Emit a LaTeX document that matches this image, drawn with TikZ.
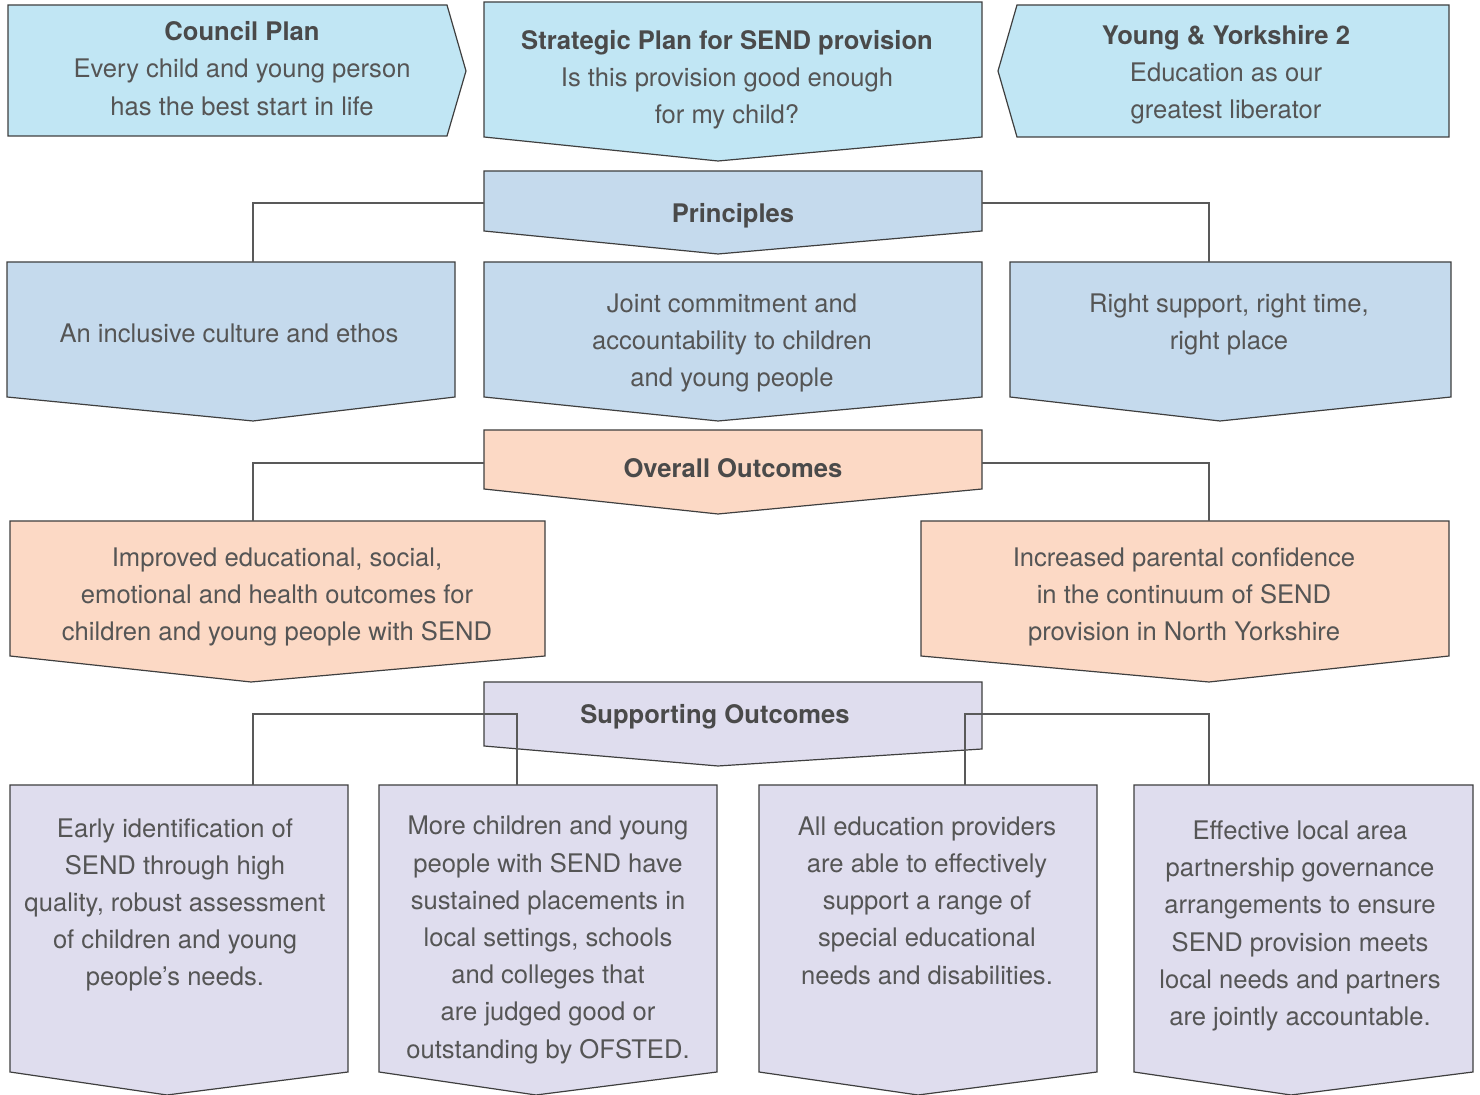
\documentclass[tikz,border=0pt]{standalone}
\usepackage{fontspec}
\setmainfont{TeX Gyre Heros}
\definecolor{topblue}{HTML}{C1E6F4}
\definecolor{princblue}{HTML}{C5DAED}
\definecolor{peach}{HTML}{FCD9C5}
\definecolor{lav}{HTML}{DFDDEE}
\definecolor{boxline}{HTML}{3F3F3F}
\definecolor{connc}{HTML}{595959}
\definecolor{txtc}{HTML}{555555}
\definecolor{headc}{HTML}{4A4A4A}
\begin{document}
\begin{tikzpicture}[x=0.5pt,y=-0.5pt,
  box/.style={draw=boxline, line width=0.6pt, line join=miter},
  conn/.style={draw=connc, line width=1.1pt},
  txt/.style={text=txtc, align=center, inner sep=0pt, font=\fontsize{12.8}{18.6}\selectfont},
  head/.style={txt, text=headc, font=\fontsize{12.8}{18.6}\selectfont\bfseries}]
\useasboundingbox (0,0) rectangle (1480,1095);

% ---- top row ----
\draw[box, fill=topblue] (8,5) -- (447,5) -- (466,71) -- (447,136) -- (8,136) -- cycle;
\draw[box, fill=topblue] (484,2) -- (982,2) -- (982,137) -- (718,161) -- (484,137) -- cycle;
\draw[box, fill=topblue] (1017,5) -- (1449,5) -- (1449,137) -- (1017,137) -- (998,71) -- cycle;
\node[txt] (council) at (242,68.5) {\textcolor{headc}{\textbf{Council Plan}}\\Every child and young person\\has the best start in life};
\node[txt] (strategic) at (727,79.5) {\textcolor{headc}{\textbf{Strategic Plan for SEND provision}}\\Is this provision good enough\\for my child?};
\node[txt] (young) at (1226,74.5) {\textcolor{headc}{\textbf{Young \& Yorkshire 2}}\\Education as our\\greatest liberator};

% ---- principles ----
\draw[box, fill=princblue] (484,171) -- (982,171) -- (982,231) -- (718,254) -- (484,231) -- cycle;
\node[head] (princ) at (733,216) {Principles};
\coordinate (princW) at (484,203);
\coordinate (princE) at (982,203);
\draw[box, fill=princblue] (7,262) -- (455,262) -- (455,397) -- (253,421) -- (7,397) -- cycle;
\draw[box, fill=princblue] (484,262) -- (982,262) -- (982,397) -- (718,421) -- (484,397) -- cycle;
\draw[box, fill=princblue] (1010,262) -- (1451,262) -- (1451,397) -- (1220,421) -- (1010,397) -- cycle;
\coordinate (pA) at (253,262);
\coordinate (pC) at (1209,262);
\node[txt] (pa) at (229,333) {An inclusive culture and ethos};
\node[txt] (pb) at (732,343) {Joint commitment and\\accountability to children\\and young people};
\node[txt] (pc) at (1229,324.5) {Right support, right time,\\right place};
\draw[conn] (princW) -| (pA);
\draw[conn] (princE) -| (pC);

% ---- overall outcomes ----
\draw[box, fill=peach] (484,430) -- (982,430) -- (982,489) -- (718,514) -- (484,489) -- cycle;
\node[head] (overall) at (733,468) {Overall Outcomes};
\coordinate (ovW) at (484,463);
\coordinate (ovE) at (982,463);
\draw[box, fill=peach] (10,521) -- (545,521) -- (545,656) -- (251,682) -- (10,656) -- cycle;
\draw[box, fill=peach] (921,521) -- (1449,521) -- (1449,656) -- (1209,682) -- (921,656) -- cycle;
\coordinate (oL) at (253,521);
\coordinate (oR) at (1209,521);
\node[txt] (ol) at (277,597) {Improved educational, social,\\emotional and health outcomes for\\children and young people with SEND};
\node[txt] (or) at (1184,597) {Increased parental confidence\\in the continuum of SEND\\provision in North Yorkshire};
\draw[conn] (ovW) -| (oL);
\draw[conn] (ovE) -| (oR);

% ---- supporting outcomes ----
\draw[box, fill=lav] (484,682) -- (982,682) -- (982,749) -- (718,766) -- (484,746) -- cycle;
\node[head] (supp) at (715,717) {Supporting Outcomes};
\draw[box, fill=lav] (10,785) -- (348,785) -- (348,1072) -- (167,1095) -- (10,1072) -- cycle;
\draw[box, fill=lav] (379,785) -- (717,785) -- (717,1072) -- (536,1095) -- (379,1072) -- cycle;
\draw[box, fill=lav] (759,785) -- (1097,785) -- (1097,1072) -- (918,1095) -- (759,1072) -- cycle;
\draw[box, fill=lav] (1134,785) -- (1473,785) -- (1473,1072) -- (1291,1095) -- (1134,1072) -- cycle;
\coordinate (s1) at (253,785);
\coordinate (s2) at (517,785);
\coordinate (s3) at (965,785);
\coordinate (s4) at (1209,785);
\coordinate (sL) at (385,714);
\coordinate (sR) at (1087,714);
\draw[conn] (s1) |- (sL) -| (s2);
\draw[conn] (s3) |- (sR) -| (s4);
\node[txt] (t1) at (175,905) {Early identification of\\SEND through high\\quality, robust assessment\\of children and young\\people’s needs.};
\node[txt] (t2) at (548,940) {More children and young\\people with SEND have\\sustained placements in\\local settings, schools\\and colleges that\\are judged good or\\outstanding by OFSTED.};
\node[txt] (t3) at (927,900.5) {All education providers\\are able to effectively\\support a range of\\special educational\\needs and disabilities.};
\node[txt] (t4) at (1300,926) {Effective local area\\partnership governance\\arrangements to ensure\\SEND provision meets\\local needs and partners\\are jointly accountable.};
\end{tikzpicture}
\end{document}
